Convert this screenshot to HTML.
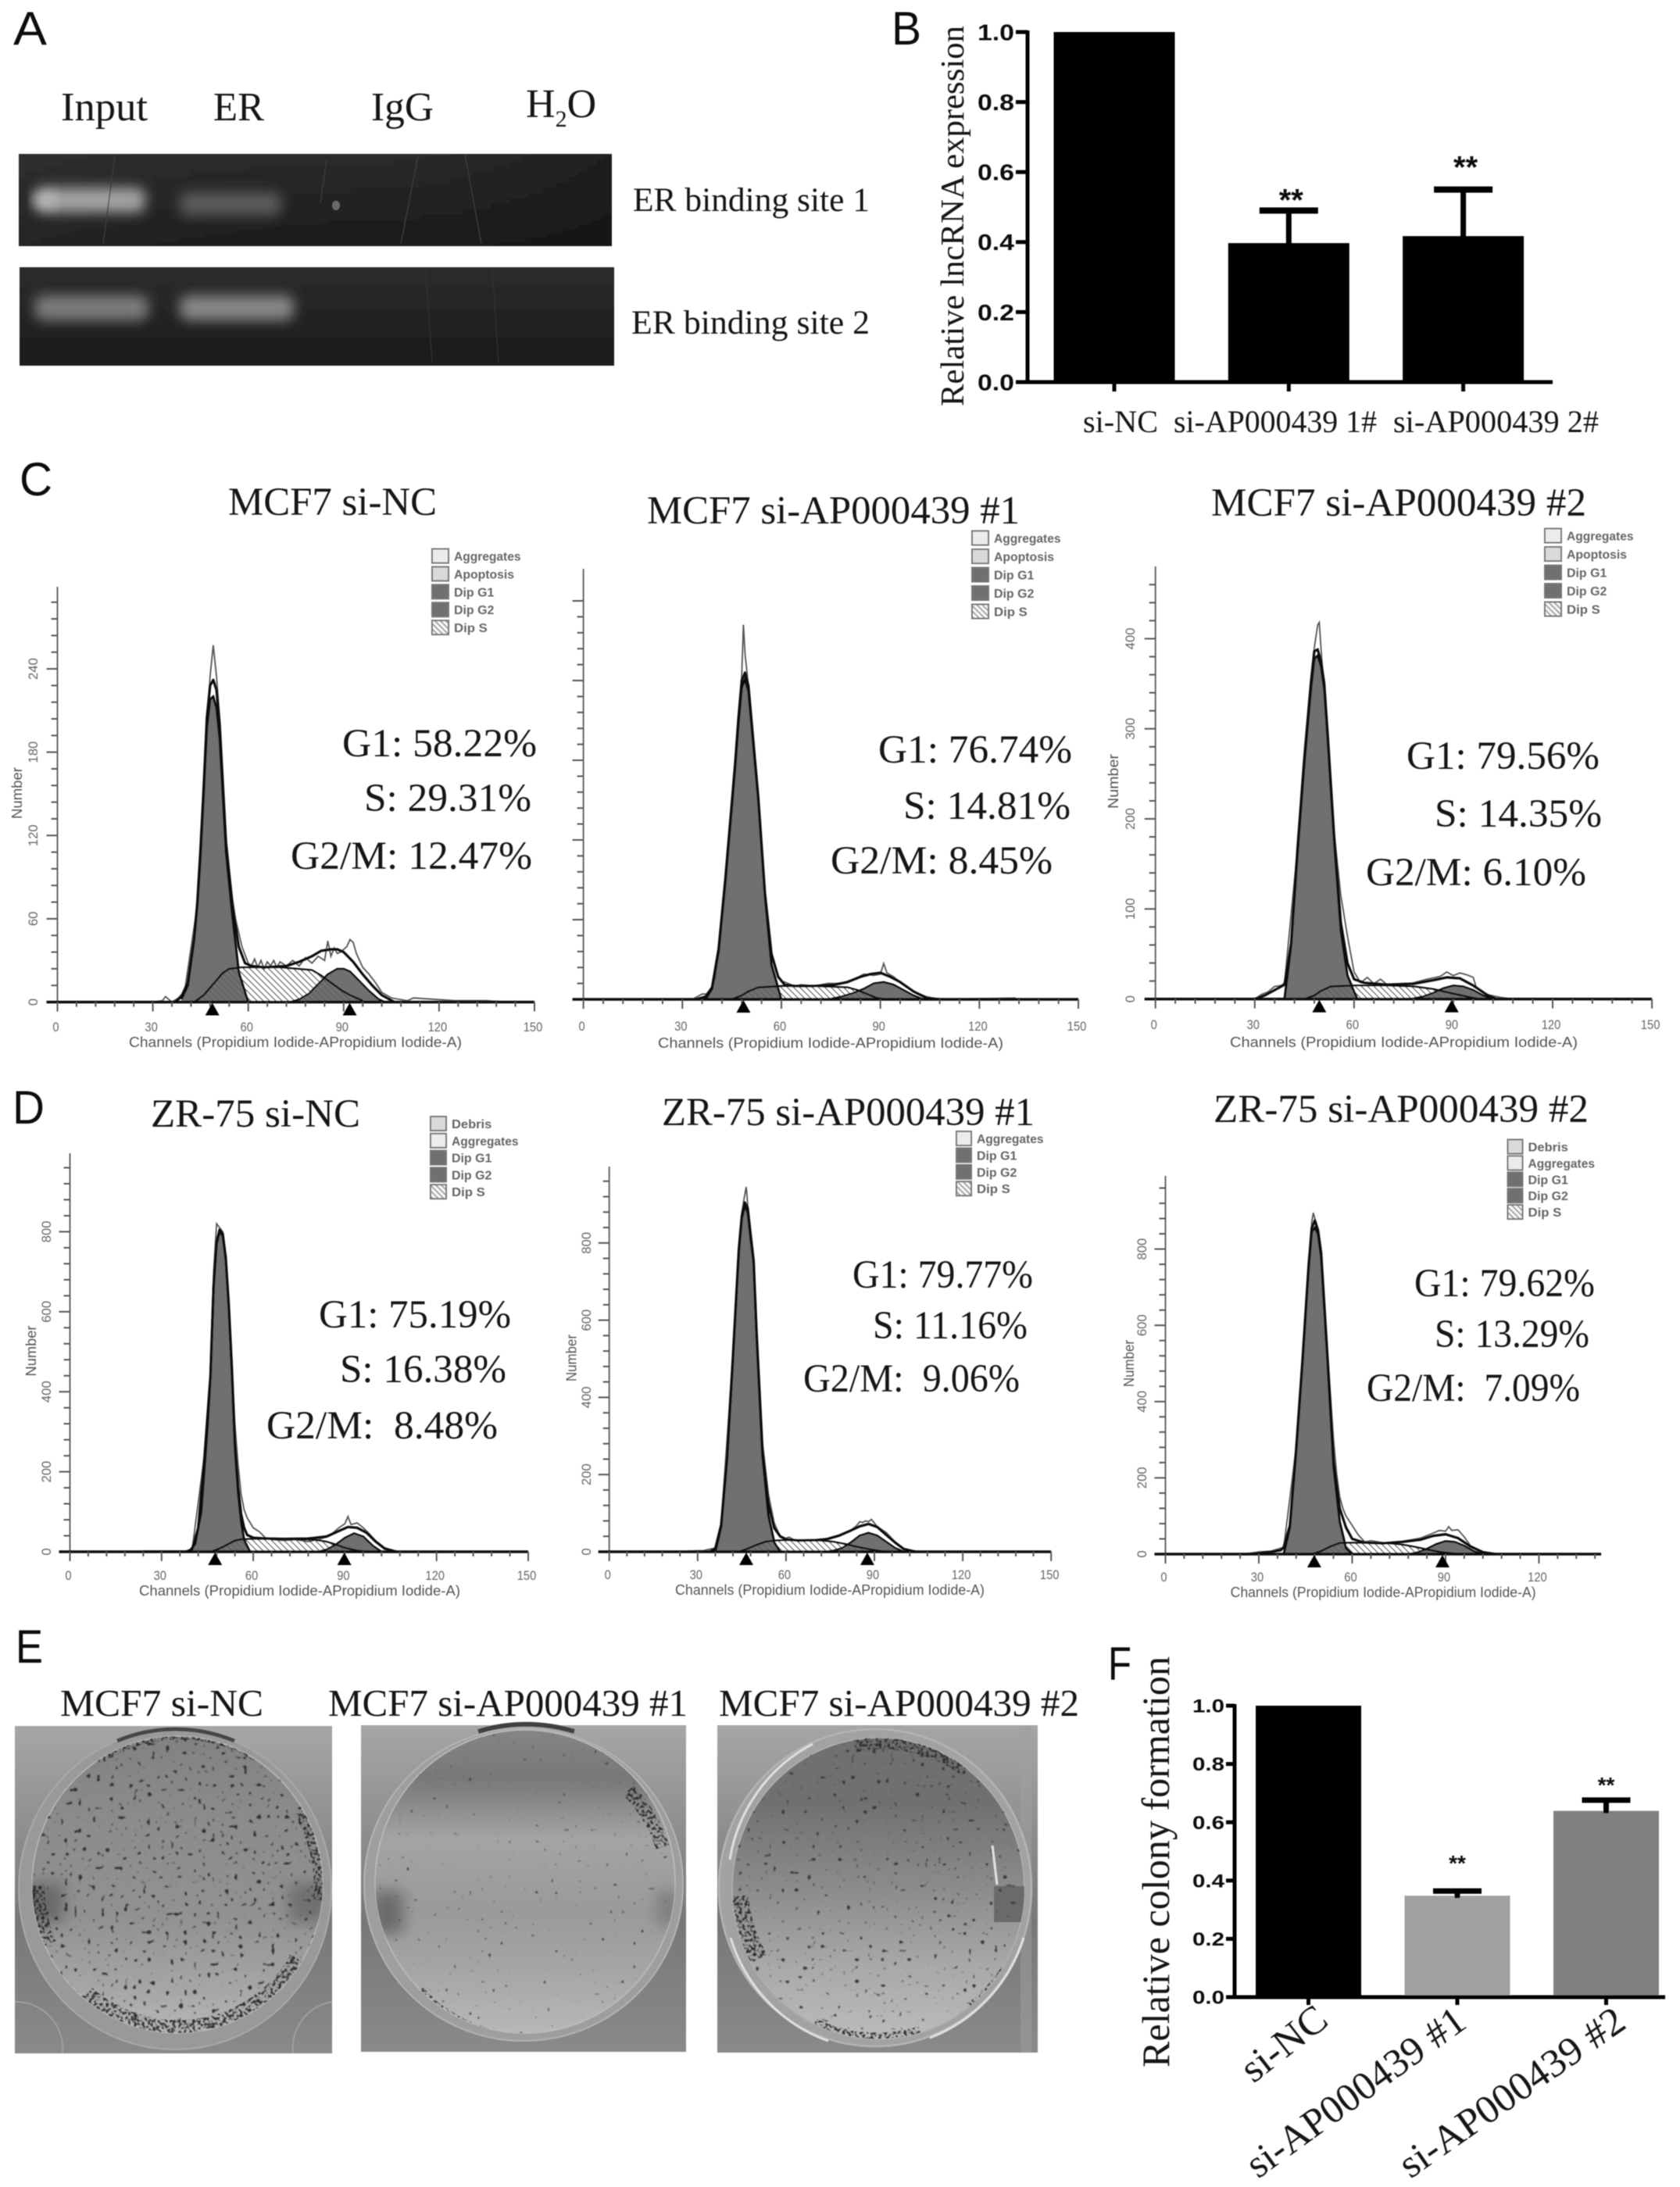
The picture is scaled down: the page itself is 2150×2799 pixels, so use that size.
<!DOCTYPE html>
<html>
<head>
<meta charset="utf-8">
<title>AP000439 figure</title>
<style>
html,body{margin:0;padding:0;background:#fff;}
svg{display:block;}
.serif{font-family:"Liberation Serif",serif;fill:#141414;}
.sans{font-family:"Liberation Sans",sans-serif;fill:#111;}
</style>
</head>
<body>
<svg id="fig" xmlns="http://www.w3.org/2000/svg" width="2150" height="2799" viewBox="0 0 2150 2799">
<defs>
  <filter id="soft" filterUnits="userSpaceOnUse" x="0" y="0" width="2150" height="2799"><feGaussianBlur stdDeviation="0.65"/></filter>
  <filter id="band" x="-30%" y="-120%" width="160%" height="340%"><feGaussianBlur stdDeviation="8"/></filter>
  <filter id="shadeBlur" x="-50%" y="-50%" width="200%" height="200%"><feGaussianBlur stdDeviation="9"/></filter>
  <filter id="colA" x="0" y="0" width="100%" height="100%" color-interpolation-filters="sRGB"><feTurbulence type="fractalNoise" baseFrequency="0.17" numOctaves="1" seed="4"/><feGaussianBlur stdDeviation="1"/><feColorMatrix values="0 0 0 0 .2 0 0 0 0 .2 0 0 0 0 .2 16 0 0 0 -9.9"/><feGaussianBlur stdDeviation="0.5"/></filter>
  <filter id="colB" x="0" y="0" width="100%" height="100%" color-interpolation-filters="sRGB"><feTurbulence type="fractalNoise" baseFrequency="0.2" numOctaves="1" seed="9"/><feGaussianBlur stdDeviation="1"/><feColorMatrix values="0 0 0 0 .3 0 0 0 0 .3 0 0 0 0 .3 16 0 0 0 -10.5"/><feGaussianBlur stdDeviation="0.5"/></filter>
  <filter id="colC" x="0" y="0" width="100%" height="100%" color-interpolation-filters="sRGB"><feTurbulence type="fractalNoise" baseFrequency="0.18" numOctaves="1" seed="15"/><feGaussianBlur stdDeviation="1"/><feColorMatrix values="0 0 0 0 .22 0 0 0 0 .22 0 0 0 0 .22 16 0 0 0 -10.2"/><feGaussianBlur stdDeviation="0.5"/></filter>
  <filter id="colDense" x="0" y="0" width="100%" height="100%" color-interpolation-filters="sRGB"><feTurbulence type="fractalNoise" baseFrequency="0.28" numOctaves="1" seed="21"/><feColorMatrix values="0 0 0 0 .18 0 0 0 0 .18 0 0 0 0 .18 10 0 0 0 -4.9"/><feGaussianBlur stdDeviation="0.5"/></filter>
  <pattern id="hatch" patternUnits="userSpaceOnUse" width="8" height="8"><rect width="8" height="8" fill="#fff"/><path d="M-1 -1L9 9M-1 7L1 9M7 -1L9 1" stroke="#8a8a8a" stroke-width="1.4"/></pattern>
  <pattern id="hatchOver" patternUnits="userSpaceOnUse" width="8" height="8"><path d="M-1 -1L9 9M-1 7L1 9M7 -1L9 1" stroke="#4a4a4a" stroke-width="1.2"/></pattern>
  <pattern id="hatchSwatch" patternUnits="userSpaceOnUse" width="7" height="7"><rect width="7" height="7" fill="#f4f4f4"/><path d="M-1 -1L8 8M-1 6L1 8M6 -1L8 1" stroke="#777" stroke-width="1.3"/></pattern>
  <linearGradient id="gelGrad" x1="0" y1="0" x2="0" y2="1"><stop offset="0" stop-color="#2c2c2c"/><stop offset=".7" stop-color="#202020"/><stop offset="1" stop-color="#1a1a1a"/></linearGradient>
  <linearGradient id="gelGrad2" x1="0" y1="0" x2="1" y2="0"><stop offset="0" stop-color="#333" stop-opacity=".45"/><stop offset=".6" stop-color="#222" stop-opacity=".1"/><stop offset="1" stop-color="#111" stop-opacity=".45"/></linearGradient>
  <linearGradient id="plateA" x1="0" y1="0" x2="0" y2="1"><stop offset="0" stop-color="#828282"/><stop offset=".3" stop-color="#8c8c8c"/><stop offset=".62" stop-color="#929292"/><stop offset=".85" stop-color="#a6a6a6"/><stop offset="1" stop-color="#b8b8b8"/></linearGradient>
  <linearGradient id="plateB" x1="0" y1="0" x2="0" y2="1"><stop offset="0" stop-color="#858585"/><stop offset=".16" stop-color="#787878"/><stop offset=".36" stop-color="#a4a4a4"/><stop offset=".6" stop-color="#9a9a9a"/><stop offset=".8" stop-color="#a6a6a6"/><stop offset="1" stop-color="#b8b8b8"/></linearGradient>
  <linearGradient id="plateC" x1="0" y1="0" x2="0" y2="1"><stop offset="0" stop-color="#707070"/><stop offset=".2" stop-color="#6f6f6f"/><stop offset=".5" stop-color="#8c8c8c"/><stop offset=".75" stop-color="#a8a8a8"/><stop offset="1" stop-color="#bcbcbc"/></linearGradient>
  <linearGradient id="trayGrad" x1="0" y1="0" x2="0" y2="1"><stop offset="0" stop-color="#a6a6a6"/><stop offset=".35" stop-color="#8c8c8c"/><stop offset=".6" stop-color="#787878"/><stop offset="1" stop-color="#8a8a8a"/></linearGradient>
  <clipPath id="clipA"><ellipse cx="227" cy="2412" rx="186" ry="190"/></clipPath>
  <clipPath id="clipB"><ellipse cx="672" cy="2408" rx="192" ry="194"/></clipPath>
  <clipPath id="clipC"><ellipse cx="1124" cy="2417" rx="187" ry="193"/></clipPath>
  <mask id="edgeA" maskUnits="userSpaceOnUse" x="19" y="2209" width="406" height="419">
    <g fill="none" stroke="#fff">
      <path d="M107 2557A186 190 0 0 0 387 2510" stroke-width="34"/>
      <path d="M387 2317A186 190 0 0 1 413 2433" stroke-width="24"/>
      <path d="M42 2413A186 190 0 0 0 58 2490" stroke-width="30"/>
      <path d="M130 2250A186 190 0 0 1 330 2250" stroke-width="12"/>
    </g>
  </mask>
  <mask id="edgeB" maskUnits="userSpaceOnUse" x="462" y="2208" width="416" height="418">
    <g fill="none" stroke="#fff">
      <path d="M536 2548A192 194 0 0 0 804 2562" stroke-width="14"/>
      <path d="M804 2291A192 194 0 0 1 848 2364" stroke-width="18"/>
    </g>
  </mask>
  <mask id="edgeC" maskUnits="userSpaceOnUse" x="918" y="2208" width="410" height="419">
    <g fill="none" stroke="#fff">
      <path d="M1093 2230A187 193 0 0 1 1240 2263" stroke-width="26"/>
      <path d="M940 2427A187 193 0 0 0 966 2510" stroke-width="36"/>
      <path d="M1043 2587A187 193 0 0 0 1177 2597" stroke-width="8"/>
      <path d="M1287 2520A187 193 0 0 1 1240 2570" stroke-width="12"/>
    </g>
  </mask>
</defs>

<g id="root" filter="url(#soft)">

<!-- Panel letters -->
<text class="sans" font-size="60" x="17" y="57" textLength="43" lengthAdjust="spacingAndGlyphs">A</text>
<text class="sans" font-size="60" x="1141" y="57" textLength="38" lengthAdjust="spacingAndGlyphs">B</text>
<text class="sans" font-size="60" x="25" y="634" textLength="42" lengthAdjust="spacingAndGlyphs">C</text>
<text class="sans" font-size="60" x="16" y="1438" textLength="41" lengthAdjust="spacingAndGlyphs">D</text>
<text class="sans" font-size="60" x="20" y="2128" textLength="35" lengthAdjust="spacingAndGlyphs">E</text>
<text class="sans" font-size="60" x="1418" y="2150" textLength="30" lengthAdjust="spacingAndGlyphs">F</text>

<!-- Panel A -->
<g>
  <text class="serif" font-size="52" x="78" y="154" textLength="111" lengthAdjust="spacingAndGlyphs">Input</text>
  <text class="serif" font-size="52" x="273" y="154" textLength="65" lengthAdjust="spacingAndGlyphs">ER</text>
  <text class="serif" font-size="52" x="475" y="154" textLength="80" lengthAdjust="spacingAndGlyphs">IgG</text>
  <text class="serif" font-size="52" x="673" y="150">H<tspan dy="12" font-size="30">2</tspan><tspan dy="-12">O</tspan></text>

  <g>
    <rect x="24" y="197" width="759" height="118" fill="url(#gelGrad)"/>
    <rect x="24" y="197" width="759" height="118" fill="url(#gelGrad2)"/>
    <rect x="46" y="240" width="140" height="32" rx="12" fill="#a2a2a2" filter="url(#band)"/>
    <rect x="44" y="248" width="26" height="16" fill="#c0c0c0" filter="url(#band)"/>
    <rect x="230" y="246" width="130" height="30" rx="10" fill="#5a5a5a" filter="url(#band)"/>
    <ellipse cx="430" cy="263" rx="5" ry="6" fill="#6a6a6a"/>
    <path d="M147 200L132 312M418 205L410 260M535 200L513 312M595 197L616 312" stroke="#3c3c3c" stroke-width="1.2" fill="none"/>
  </g>
  <g>
    <rect x="25" y="342" width="761" height="126" fill="url(#gelGrad)"/>
    <rect x="44" y="378" width="146" height="32" rx="12" fill="#7c7c7c" filter="url(#band)"/>
    <rect x="230" y="378" width="146" height="32" rx="12" fill="#868686" filter="url(#band)"/>
    <path d="M545 345L553 465M630 345L638 465" stroke="#333" stroke-width="1.2" fill="none"/>
  </g>
  <text class="serif" font-size="43.5" x="810" y="270" textLength="303" lengthAdjust="spacingAndGlyphs">ER binding site 1</text>
  <text class="serif" font-size="43.5" x="808" y="427" textLength="305" lengthAdjust="spacingAndGlyphs">ER binding site 2</text>
</g>

<!-- Panel B and F containers -->
<g id="panelB">
  <text class="serif" font-size="42.5" transform="translate(1233,520) rotate(-90)" textLength="487" lengthAdjust="spacingAndGlyphs">Relative lncRNA expression</text>
</g>
<g id="panelF">
  <text class="serif" font-size="50" transform="translate(1496,2646) rotate(-90)" textLength="526" lengthAdjust="spacingAndGlyphs">Relative colony formation</text>
</g>

<!-- Panel C titles and stats -->
<g>
  <text class="serif" font-size="51" x="292" y="659" textLength="267" lengthAdjust="spacingAndGlyphs">MCF7 si-NC</text>
  <text class="serif" font-size="51" x="438" y="968" textLength="249" lengthAdjust="spacingAndGlyphs">G1: 58.22%</text>
  <text class="serif" font-size="51" x="466" y="1038" textLength="214" lengthAdjust="spacingAndGlyphs">S: 29.31%</text>
  <text class="serif" font-size="51" x="372" y="1112" textLength="309" lengthAdjust="spacingAndGlyphs">G2/M: 12.47%</text>

  <text class="serif" font-size="51" x="828" y="670" textLength="477" lengthAdjust="spacingAndGlyphs">MCF7 si-AP000439 #1</text>
  <text class="serif" font-size="51" x="1124" y="976" textLength="248" lengthAdjust="spacingAndGlyphs">G1: 76.74%</text>
  <text class="serif" font-size="51" x="1156" y="1048" textLength="214" lengthAdjust="spacingAndGlyphs">S: 14.81%</text>
  <text class="serif" font-size="51" x="1063" y="1118" textLength="284" lengthAdjust="spacingAndGlyphs">G2/M: 8.45%</text>

  <text class="serif" font-size="51" x="1550" y="660" textLength="480" lengthAdjust="spacingAndGlyphs">MCF7 si-AP000439 #2</text>
  <text class="serif" font-size="51" x="1800" y="984" textLength="247" lengthAdjust="spacingAndGlyphs">G1: 79.56%</text>
  <text class="serif" font-size="51" x="1836" y="1058" textLength="214" lengthAdjust="spacingAndGlyphs">S: 14.35%</text>
  <text class="serif" font-size="51" x="1748" y="1133" textLength="282" lengthAdjust="spacingAndGlyphs">G2/M: 6.10%</text>
</g>

<!-- Panel D titles and stats -->
<g>
  <text class="serif" font-size="51" x="193" y="1442" textLength="268" lengthAdjust="spacingAndGlyphs">ZR-75 si-NC</text>
  <text class="serif" font-size="51" x="408" y="1699" textLength="246" lengthAdjust="spacingAndGlyphs">G1: 75.19%</text>
  <text class="serif" font-size="51" x="435" y="1769" textLength="213" lengthAdjust="spacingAndGlyphs">S: 16.38%</text>
  <text class="serif" font-size="51" x="341" y="1841" textLength="296" lengthAdjust="spacingAndGlyphs" xml:space="preserve">G2/M:  8.48%</text>

  <text class="serif" font-size="51" x="847" y="1440" textLength="477" lengthAdjust="spacingAndGlyphs">ZR-75 si-AP000439 #1</text>
  <text class="serif" font-size="51" x="1091" y="1648" textLength="231" lengthAdjust="spacingAndGlyphs">G1: 79.77%</text>
  <text class="serif" font-size="51" x="1117" y="1713" textLength="198" lengthAdjust="spacingAndGlyphs">S: 11.16%</text>
  <text class="serif" font-size="51" x="1028" y="1781" textLength="277" lengthAdjust="spacingAndGlyphs" xml:space="preserve">G2/M:  9.06%</text>

  <text class="serif" font-size="51" x="1553" y="1436" textLength="480" lengthAdjust="spacingAndGlyphs">ZR-75 si-AP000439 #2</text>
  <text class="serif" font-size="51" x="1810" y="1659" textLength="231" lengthAdjust="spacingAndGlyphs">G1: 79.62%</text>
  <text class="serif" font-size="51" x="1836" y="1724" textLength="198" lengthAdjust="spacingAndGlyphs">S: 13.29%</text>
  <text class="serif" font-size="51" x="1749" y="1793" textLength="273" lengthAdjust="spacingAndGlyphs" xml:space="preserve">G2/M:  7.09%</text>
</g>

<g id="flowCharts"></g>

<!-- Panel E -->
<g>
  <text class="serif" font-size="49" x="77" y="2196" textLength="260" lengthAdjust="spacingAndGlyphs">MCF7 si-NC</text>
  <text class="serif" font-size="49" x="420" y="2196" textLength="460" lengthAdjust="spacingAndGlyphs">MCF7 si-AP000439 #1</text>
  <text class="serif" font-size="49" x="920" y="2196" textLength="461" lengthAdjust="spacingAndGlyphs">MCF7 si-AP000439 #2</text>

  <g>
    <rect x="19" y="2209" width="406" height="419" fill="url(#trayGrad)"/>
    <path d="M19 2562A60 60 0 0 1 80 2628M425 2562A60 60 0 0 0 375 2628" fill="none" stroke="#aaa" stroke-width="1.2"/>
    <ellipse cx="224" cy="2418" rx="200" ry="205" fill="#999" stroke="#a9a9a9" stroke-width="2"/>
    <ellipse cx="227" cy="2412" rx="186" ry="190" fill="url(#plateA)" stroke="#b8b8b8" stroke-width="1.5"/>
    <g clip-path="url(#clipA)">
      <rect x="32" y="2410" width="50" height="50" fill="#6a6a6a" filter="url(#shadeBlur)"/>
      <rect x="370" y="2410" width="50" height="50" fill="#6f6f6f" filter="url(#shadeBlur)"/>
    </g>
    <g clip-path="url(#clipA)"><rect x="38" y="2220" width="380" height="384" filter="url(#colA)"/></g>
    <g clip-path="url(#clipA)"><g mask="url(#edgeA)"><rect x="38" y="2220" width="380" height="384" filter="url(#colDense)"/></g></g>
    <path d="M150 2228A200 205 0 0 1 300 2228" fill="none" stroke="#474747" stroke-width="5"/>
  </g>
  <g>
    <rect x="462" y="2208" width="416" height="418" fill="url(#trayGrad)"/>
    <ellipse cx="670" cy="2412" rx="204" ry="200" fill="#9e9e9e" stroke="#b2b2b2" stroke-width="2"/>
    <ellipse cx="672" cy="2408" rx="192" ry="194" fill="url(#plateB)" stroke="#bcbcbc" stroke-width="1.5"/>
    <g clip-path="url(#clipB)">
      <rect x="476" y="2420" width="40" height="55" fill="#6c6c6c" filter="url(#shadeBlur)"/>
      <rect x="840" y="2420" width="30" height="45" fill="#808080" filter="url(#shadeBlur)"/>
    </g>
    <g clip-path="url(#clipB)"><rect x="478" y="2212" width="390" height="392" filter="url(#colB)"/></g>
    <g clip-path="url(#clipB)"><g mask="url(#edgeB)"><rect x="478" y="2212" width="390" height="392" filter="url(#colDense)"/></g></g>
    <path d="M612 2216A204 200 0 0 1 735 2216" fill="none" stroke="#3f3f3f" stroke-width="6"/>
  </g>
  <g>
    <rect x="918" y="2208" width="410" height="419" fill="url(#trayGrad)"/>
    <rect x="1306" y="2208" width="14" height="419" fill="#a0a0a0" opacity=".5"/>
    <ellipse cx="1120" cy="2416" rx="200" ry="203" fill="#a2a2a2" stroke="#b4b4b4" stroke-width="2.5"/>
    <ellipse cx="1124" cy="2417" rx="187" ry="193" fill="url(#plateC)" stroke="#b0b0b0" stroke-width="1.5"/>
    <g clip-path="url(#clipC)">
      <rect x="1272" y="2414" width="50" height="46" fill="#6a6a6a"/>
    </g>
    <g clip-path="url(#clipC)"><rect x="937" y="2224" width="375" height="386" filter="url(#colC)"/></g>
    <g clip-path="url(#clipC)"><g mask="url(#edgeC)"><rect x="937" y="2224" width="375" height="386" filter="url(#colDense)"/></g></g>
    <path d="M934 2380A200 203 0 0 1 1040 2232M935 2480A200 203 0 0 0 1060 2612M1190 2608A200 203 0 0 0 1310 2480" fill="none" stroke="#dedede" stroke-width="3"/>
    <path d="M1270 2362L1276 2412" fill="none" stroke="#e0e0e0" stroke-width="3"/>
  </g>
</g>
</g>
</svg>

<script>
/* ---------- Panel B data ---------- */
const bCategories = ['si-NC', 'si-AP000439 1#', 'si-AP000439 2#'];
const bValues = [1.0, 0.397, 0.417];
const bErrorTops = [1.0, 0.49, 0.55];
const bStarLevels = [null, 0.54, 0.634];
const bTicks = [0, 0.2, 0.4, 0.6, 0.8, 1.0];

/* ---------- Panel F data ---------- */
const fCategories = ['si-NC', 'si-AP000439 #1', 'si-AP000439 #2'];
const fValues = [1.0, 0.348, 0.639];
const fErrorTops = [1.0, 0.364, 0.676];
const fStarLevels = [null, 0.477, 0.745];
const fTicks = [0, 0.2, 0.4, 0.6, 0.8, 1.0];

/* ---------- Histogram legends ---------- */
const legendMcf = ['Aggregates', 'Apoptosis', 'Dip G1', 'Dip G2', 'Dip S'];
const legendZrDebris = ['Debris', 'Aggregates', 'Dip G1', 'Dip G2', 'Dip S'];
const legendZrPlain = ['Aggregates', 'Dip G1', 'Dip G2', 'Dip S'];

/* ---------- Panel C, MCF7 si-NC ---------- */
const c1G1Channels = [39,41,43,44,45,46,47,48,49,50,51,53,55,57,60];
const c1G1Counts = [2,12,45,70,105,150,198,218,220,212,190,108,62,22,0];
const c1SChannels = [43,46,49,52,54,58,70,80,83,86,89,92,96];
const c1SCounts = [0,5,13,21,24,25,25,23,19,14,9,5,1];
const c1G2Channels = [73,76,79,82,85,88,90,92,95,98,101,103];
const c1G2Counts = [0,2,6,13,20,24,24,22,15,8,2,0];
const c1FitChannels = [37,39,41,43,44,45,46,47,48,49,50,51,53,55,57,59,61,65,72,76,80,83,86,88,90,93,96,99,102,106];
const c1FitCounts = [0,4,14,46,72,110,155,205,228,232,225,200,115,70,40,28,26,25,26,29,33,37,38,38,36,29,20,12,5,0];
const c1RawChannels = [30,33,34,36,38,40,44,47,48,49,50,51,52,53,55,56,57,58,60,61,62,63,64,65,66,67,68,69,70,72,74,76,78,80,82,84,85,86,87,88,89,90,91,92,93,94,96,98,100,102,105,110,112,125,135,141];
const c1RawCounts = [0,1,4,0,3,8,70,200,235,257,235,205,150,115,75,60,50,40,28,26,31,25,30,24,29,26,30,25,29,26,30,26,32,28,33,30,44,33,39,35,36,38,40,45,43,35,25,20,14,7,3,1,3,1,1,0];
const c1Peaks = [48.7, 91.9];

/* ---------- Panel C, MCF7 si-AP000439 #1 ---------- */
const c2G1Channels = [37,39,41,43,45,46,47,48,49,50,51,53,55,57,60];
const c2G1Counts = [0,8,36,88,145,175,208,235,241,232,205,150,78,26,0];
const c2SChannels = [45,48,50,53,60,70,80,83,86,89,92];
const c2SCounts = [0,3,6,9,10,10,9,7,4,1,0];
const c2G2Channels = [74,78,82,85,88,91,94,97,100,103];
const c2G2Counts = [0,2,5,8,12,13,11,7,3,0];
const c2FitChannels = [34,37,39,41,43,45,46,47,48,49,50,51,53,55,57,59,61,64,70,76,80,84,87,90,93,96,100,104,108];
const c2FitCounts = [0,2,9,38,90,148,178,212,240,246,236,208,152,80,34,17,11,10,10,11,13,17,19,20,17,13,6,1,0];
const c2RawChannels = [33,36,38,40,44,46,47,48,48.5,49,50,51,53,55,57,59,60,62,64,66,70,74,78,82,85,88,90,91,92,94,96,100,104,108,131];
const c2RawCounts = [0,4,4,16,115,180,215,245,282,260,236,210,150,80,36,18,14,12,10,11,10,12,12,15,19,18,19,27,20,17,13,6,2,0,1];
const c2Peaks = [48.5];

/* ---------- Panel C, MCF7 si-AP000439 #2 ---------- */
const c3G1Channels = [39,41,43,45,47,48,49,50,51,52,54,56,58,61];
const c3G1Counts = [0,60,165,262,345,378,381,370,345,290,175,76,26,0];
const c3SChannels = [45,48,50,53,60,70,78,84,90,95,98];
const c3SCounts = [0,4,9,14,15,15,14,11,6,2,0];
const c3G2Channels = [77,81,84,87,90,93,96,99,102];
const c3G2Counts = [0,3,7,12,15,14,10,4,0];
const c3FitChannels = [30,33,36,38,39,41,43,45,47,48,49,50,51,52,54,56,58,60,63,70,78,84,88,92,96,100,103];
const c3FitCounts = [0,4,10,14,16,62,170,268,352,386,388,375,350,295,180,85,40,22,18,16,17,21,24,23,15,5,0];
const c3RawChannels = [30,32,34,36,38,39,43,47,48,49,49.5,50,51,52,54,56,58,60,62,64,66,68,70,74,78,82,86,88,90,92,94,96,97,100,104,108];
const c3RawCounts = [0,5,8,14,15,18,170,352,390,415,418,390,340,295,185,115,70,30,18,24,17,22,16,15,18,22,25,30,26,29,27,24,12,5,2,0];
const c3Peaks = [49.5, 89.5];

/* ---------- Panel D, ZR-75 si-NC ---------- */
const d1G1Channels = [39,41,43,45,46,47,48,49,50,51,52,53,54,55,56,57,59];
const d1G1Counts = [0,20,100,310,440,660,770,800,790,730,610,450,260,150,75,30,0];
const d1SChannels = [46,48,50,52,54,56,60,70,80,84,87,90,94,97];
const d1SCounts = [0,5,12,20,28,31,32,32,30,25,18,10,3,0];
const d1G2Channels = [81,84,87,90,93,96,99,102];
const d1G2Counts = [0,6,18,35,46,38,16,0];
const d1FitChannels = [38,40,42,44,46,47,48,49,50,51,52,53,54,55,56,57,58,60,64,70,78,84,88,91,94,97,100,103,107];
const d1FitCounts = [0,6,60,230,440,660,775,805,795,735,615,460,270,165,95,60,42,35,33,32,33,38,52,62,60,48,26,8,0];
const d1RawChannels = [24,38,40,44,46,47,48,49,50,51,52,53,54,55,56,57,58,60,62,64,66,70,74,78,82,85,88,90,91,92,94,96,98,100,103,107];
const d1RawCounts = [2,2,6,240,450,700,820,810,800,740,620,470,320,220,145,105,85,60,50,35,30,28,30,25,32,40,60,70,88,68,72,60,45,28,10,0];
const d1Peaks = [47.5, 89.8];

/* ---------- Panel D, ZR-75 si-AP000439 #1 ---------- */
const d2G1Channels = [36,38,40,42,44,45,46,47,48,49,50,52,54,56,58];
const d2G1Counts = [0,65,240,500,780,864,896,880,810,750,560,250,95,25,0];
const d2SChannels = [44,47,50,53,56,60,66,72,76,80,84,88,92,95];
const d2SCounts = [0,8,18,26,29,30,30,29,26,20,13,7,2,0];
const d2G2Channels = [73,76,79,82,85,88,91,94,97,100];
const d2G2Counts = [0,3,10,24,42,49,42,26,10,0];
const d2FitChannels = [34,36,38,40,42,44,45,46,47,48,49,50,52,54,56,58,60,64,70,74,78,82,85,88,91,94,97,100,104];
const d2FitCounts = [0,8,70,245,505,785,870,905,890,820,755,570,265,125,62,40,32,29,30,33,42,55,66,72,64,44,24,7,0];
const d2RawChannels = [27,32,36,38,42,44,45,46,46.5,47,48,49,50,52,54,56,58,60,61,63,66,70,74,78,82,84,85,86,87,88,89,91,94,97,100,105];
const d2RawCounts = [2,3,10,75,510,790,880,925,945,900,825,755,575,285,150,75,40,35,38,30,28,30,33,40,55,68,78,76,80,78,84,65,50,26,8,0];
const d2Peaks = [46.5, 87.6];

/* ---------- Panel D, ZR-75 si-AP000439 #2 ---------- */
const d3G1Channels = [38,40,42,44,46,47,48,49,50,51,52,54,56,58,60];
const d3G1Counts = [0,70,270,500,750,845,856,840,780,650,517,230,85,16,0];
const d3SChannels = [47,50,53,56,60,66,72,76,80,84,88,92,95];
const d3SCounts = [0,8,20,29,30,29,28,25,19,12,6,2,0];
const d3G2Channels = [78,81,84,87,90,93,96,99,102];
const d3G2Counts = [0,5,14,26,34,32,22,8,0];
const d3FitChannels = [28,34,37,38,40,42,44,46,47,48,49,50,51,52,54,56,58,60,64,70,76,82,86,90,94,98,102,106];
const d3FitCounts = [0,6,10,18,75,275,505,755,855,875,850,790,660,525,245,120,70,40,30,28,32,38,48,52,42,20,5,0];
const d3RawChannels = [25,30,34,38,42,44,46,47,47.5,48,49,50,51,52,54,55,56,57,58,60,62,64,66,70,76,82,86,88,90,91,92,94,96,98,102,106];
const d3RawCounts = [0,6,8,18,280,510,760,870,895,880,850,790,660,540,300,210,150,120,100,75,50,32,35,30,33,42,55,62,60,72,62,64,45,22,6,0];
const d3Peaks = [47.8, 89];

const NS = 'http://www.w3.org/2000/svg';
function svgEl(tag, attrs, parent) {
  const el = document.createElementNS(NS, tag);
  for (const k in attrs) el.setAttribute(k, attrs[k]);
  parent.appendChild(el);
  return el;
}
function svgText(parent, str, attrs) {
  const el = svgEl('text', attrs, parent);
  el.textContent = str;
  return el;
}

/* ---------- Bar charts ---------- */
function drawBars(parent, cfg, cats, vals, errs, stars, ticks) {
  const y = v => cfg.base - v * (cfg.base - cfg.top);
  const x = i => cfg.firstCenter + i * cfg.step;

  vals.forEach((v, i) => {
    const bar = svgEl('rect', {x: x(i) - cfg.barW / 2, y: y(v), width: cfg.barW, height: cfg.base - y(v), fill: cfg.fills[i]}, parent);
    
    
    if (errs[i] > v) {
      const stem = svgEl('rect', {x: x(i) - cfg.stemW / 2, y: y(errs[i]), width: cfg.stemW, height: y(v) - y(errs[i]) + 3, fill: '#000'}, parent);
      
      
      const cap = svgEl('rect', {x: x(i) - cfg.capW / 2, y: y(errs[i]) - cfg.capH / 2, width: cfg.capW, height: cfg.capH, fill: '#000'}, parent);
      
      
    }
    if (stars[i] !== null) {
      const star = svgText(parent, '**', {x: x(i) + cfg.starDx, y: y(stars[i]) + cfg.starFont * 0.56, 'text-anchor': 'middle', 'font-size': cfg.starFont, 'font-weight': 'bold', class: 'sans'});
      
      
    }
    const tick = svgEl('rect', {x: x(i) - 2.5, y: cfg.base, width: 5, height: cfg.tickLen, fill: '#000'}, parent);
    
    
    const cl = cfg.catLabels[i];
    const attrs = cl.rotate
      ? {transform: 'translate(' + cl.x + ',' + cl.y + ') rotate(' + cl.rotate + ')', 'font-size': cfg.catFont, textLength: cl.w, lengthAdjust: 'spacingAndGlyphs', class: 'serif'}
      : {x: cl.x, y: cl.y, 'font-size': cfg.catFont, textLength: cl.w, lengthAdjust: 'spacingAndGlyphs', class: 'serif'};
    const lab = svgText(parent, cats[i], attrs);
    
    
  });

  const yAxis = svgEl('rect', {x: cfg.axisX - cfg.axisW / 2, y: y(1) - 2, width: cfg.axisW, height: cfg.base - y(1) + 4, fill: '#000'}, parent);
  
  
  const xAxis = svgEl('rect', {x: cfg.tickLeft, y: cfg.base - 2.5, width: cfg.axisEnd - cfg.tickLeft, height: 5, fill: '#000'}, parent);
  
  

  ticks.forEach(t => {
    const tk = svgEl('rect', {x: cfg.tickLeft, y: y(t) - 2.5, width: cfg.axisX - cfg.tickLeft, height: 5, fill: '#000'}, parent);
    
    
    const tl = svgText(parent, t.toFixed(1), {x: cfg.labelX, y: y(t) + cfg.labelFont * 0.36, 'font-size': cfg.labelFont, 'font-weight': 'bold', textLength: cfg.labelW, lengthAdjust: 'spacingAndGlyphs', class: 'sans'});
    
    
  });
}

drawBars(document.getElementById('panelB'), {
  base: 489, top: 41, firstCenter: 1426, step: 223.3, barW: 155, stemW: 7, capW: 75, capH: 8,
  fills: ['#000', '#000', '#000'], starFont: 40, starDx: 3, tickLen: 12, axisX: 1315, axisW: 5,
  tickLeft: 1300, axisEnd: 1987, labelX: 1251, labelFont: 29, labelW: 47, catFont: 40,
  catLabels: [{x: 1386, y: 553, w: 96}, {x: 1502, y: 553, w: 260}, {x: 1783, y: 553, w: 263}]
}, bCategories, bValues, bErrorTops, bStarLevels, bTicks);

drawBars(document.getElementById('panelF'), {
  base: 2556, top: 2183, firstCenter: 1674.5, step: 190.5, barW: 135, stemW: 7, capW: 62, capH: 7,
  fills: ['#000', '#a0a0a0', '#808080'], starFont: 28, starDx: 0, tickLen: 10, axisX: 1580, axisW: 5,
  tickLeft: 1569, axisEnd: 2131, labelX: 1526, labelFont: 24, labelW: 41, catFont: 51,
  catLabels: [
    {x: 1604, y: 2667, w: 125, rotate: -38},
    {x: 1610, y: 2789, w: 333, rotate: -36},
    {x: 1805, y: 2789, w: 340, rotate: -35}
  ]
}, fCategories, fValues, fErrorTops, fStarLevels, fTicks);

/* ---------- Histograms ---------- */
function drawFlow(f, d) {
  const root = document.getElementById('flowCharts');
  const g = svgEl('g', {}, root);
  
  

  const xs = ch => f.x0 + ch * f.pxPerCh;
  const ys = n => f.base - n * f.pxPerN;
  const line = (X, Y) => X.map((c, i) => (i ? 'L' : 'M') + xs(c).toFixed(1) + ' ' + ys(Y[i]).toFixed(1)).join('');
  const area = (X, Y) => 'M' + xs(X[0]).toFixed(1) + ' ' + f.base + line(X, Y).replace('M', 'L') + 'L' + xs(X[X.length - 1]).toFixed(1) + ' ' + f.base + 'Z';

  const sFill = svgEl('path', {d: area(d.sX, d.sY), fill: 'url(#hatch)'}, g);
  
  
  const g1Fill = svgEl('path', {d: area(d.g1X, d.g1Y), fill: '#6f6f6f'}, g);
  
  
  const g2Fill = svgEl('path', {d: area(d.g2X, d.g2Y), fill: '#6f6f6f'}, g);
  
  
  const sOver = svgEl('path', {d: area(d.sX, d.sY), fill: 'url(#hatchOver)', opacity: 0.55}, g);
  
  
  const raw = svgEl('path', {d: line(d.rawX, d.rawY), fill: 'none', stroke: '#555', 'stroke-width': 1.8}, g);
  
  
  const sLine = svgEl('path', {d: line(d.sX, d.sY), fill: 'none', stroke: '#111', 'stroke-width': 2.4}, g);
  
  
  const g2Line = svgEl('path', {d: line(d.g2X, d.g2Y), fill: 'none', stroke: '#111', 'stroke-width': 2.4}, g);
  
  
  const g1Line = svgEl('path', {d: line(d.g1X, d.g1Y), fill: 'none', stroke: '#111', 'stroke-width': 3}, g);
  
  
  const fit = svgEl('path', {d: line(d.fitX, d.fitY), fill: 'none', stroke: '#0c0c0c', 'stroke-width': 3.2, 'stroke-linejoin': 'round'}, g);
  
  

  /* y axis */
  const yAxis = svgEl('line', {x1: f.x0, x2: f.x0, y1: f.top, y2: f.base, stroke: '#666', 'stroke-width': 2}, g);
  
  
  for (let n = 0; n <= f.yMax; n += f.yMinor) {
    const major = n % f.yMajor === 0;
    const tk = svgEl('line', {x1: f.x0 - (major ? 14 : 8), x2: f.x0, y1: ys(n), y2: ys(n), stroke: '#555', 'stroke-width': 2}, g);
    
    
    if (major && f.yLabelX) {
      const str = String(n);
      const tl = svgText(g, str, {transform: 'translate(' + f.yLabelX + ',' + ys(n) + ') rotate(-90)', 'text-anchor': 'middle', 'font-size': 17, fill: '#666', 'font-family': '"Liberation Sans",sans-serif', textLength: 9.3 * str.length, lengthAdjust: 'spacingAndGlyphs'});
      
      
    }
  }
  if (f.numberX) {
    const nt = svgText(g, 'Number', {transform: 'translate(' + f.numberX + ',' + f.numberY + ') rotate(-90)', 'text-anchor': 'middle', 'font-size': 18, fill: '#555', 'font-family': '"Liberation Sans",sans-serif', textLength: f.numberLen, lengthAdjust: 'spacingAndGlyphs'});
    
    
  }

  /* x axis */
  const xAxis = svgEl('line', {x1: f.x0 - 14, x2: xs(f.xMax), y1: f.base, y2: f.base, stroke: '#111', 'stroke-width': 3.5}, g);
  
  
  for (let c = 0; c <= f.xMax; c += 6) {
    const major = c % 30 === 0;
    const tk = svgEl('line', {x1: xs(c), x2: xs(c), y1: f.base, y2: f.base + (major ? 12 : 6), stroke: '#555', 'stroke-width': 2}, g);
    
    
    if (major) {
      const str = String(c);
      const tl = svgText(g, str, {x: xs(c) - 2, y: f.xLabelY, 'text-anchor': 'middle', 'font-size': 17, fill: '#666', 'font-family': '"Liberation Sans",sans-serif', textLength: 8.2 * str.length, lengthAdjust: 'spacingAndGlyphs'});
      
      
    }
  }
  const xt = svgText(g, 'Channels (Propidium Iodide-APropidium Iodide-A)', {x: f.xTitleX, y: f.xTitleY, 'font-size': 18, fill: '#555', 'font-family': '"Liberation Sans",sans-serif', textLength: f.xTitleW, lengthAdjust: 'spacingAndGlyphs'});
  
  

  /* peak markers */
  d.peaks.forEach(p => {
    const tri = svgEl('path', {d: 'M' + xs(p) + ' ' + (f.base + 1) + 'l9 16h-18z', fill: '#000'}, g);
    
    
  });

  /* legend */
  d.legend.forEach((lab, i) => {
    const cy = f.legendTop + i * f.legendStep;
    const hue = lab === 'Dip S' ? 'url(#hatchSwatch)' : lab.indexOf('Dip') === 0 ? '#6f6f6f' : (lab === 'Aggregates' ? '#ececec' : '#d9d9d9');
    const box = svgEl('rect', {x: f.legendX, y: cy - 9, width: f.legendBoxW, height: 18, fill: hue, stroke: '#777', 'stroke-width': 2}, g);
    
    
    const t = svgText(g, lab, {x: f.legendX + f.legendBoxW + 7, y: cy + 6, 'font-size': 16, fill: '#666', 'font-weight': 'bold', 'font-family': '"Liberation Sans",sans-serif', textLength: lab.length * 8.55, lengthAdjust: 'spacingAndGlyphs'});
    
    
  });
}

drawFlow(
  {name:'histogram-mcf7-si-nc', x0:73.5, pxPerCh:4.07, base:1282.5, pxPerN:1.777, top:751, xMax:150, yMax:290, yMajor:60, yMinor:12, yLabelX:48, numberX:28, numberY:1015, numberLen:66, xLabelY:1320, xTitleX:165, xTitleY:1340, xTitleW:426, legendX:553, legendTop:711.5, legendStep:22.9, legendBoxW:21},
  {g1X:c1G1Channels, g1Y:c1G1Counts, sX:c1SChannels, sY:c1SCounts, g2X:c1G2Channels, g2Y:c1G2Counts, fitX:c1FitChannels, fitY:c1FitCounts, rawX:c1RawChannels, rawY:c1RawCounts, peaks:c1Peaks, legend:legendMcf}
);
drawFlow(
  {name:'histogram-mcf7-si-ap000439-1', x0:746.6, pxPerCh:4.223, base:1279, pxPerN:1.7, top:728, xMax:150, yMax:300, yMajor:60, yMinor:12, xLabelY:1319, xTitleX:842, xTitleY:1341, xTitleW:442, legendX:1244, legendTop:688.5, legendStep:23.5, legendBoxW:21},
  {g1X:c2G1Channels, g1Y:c2G1Counts, sX:c2SChannels, sY:c2SCounts, g2X:c2G2Channels, g2Y:c2G2Counts, fitX:c2FitChannels, fitY:c2FitCounts, rawX:c2RawChannels, rawY:c2RawCounts, peaks:c2Peaks, legend:legendMcf}
);
drawFlow(
  {name:'histogram-mcf7-si-ap000439-2', x0:1478.7, pxPerCh:4.236, base:1278.6, pxPerN:1.153, top:725, xMax:150, yMax:470, yMajor:100, yMinor:20, yLabelX:1452, numberX:1431, numberY:1000, numberLen:70, xLabelY:1317, xTitleX:1574, xTitleY:1340, xTitleW:445, legendX:1977, legendTop:685.5, legendStep:23.5, legendBoxW:21},
  {g1X:c3G1Channels, g1Y:c3G1Counts, sX:c3SChannels, sY:c3SCounts, g2X:c3G2Channels, g2Y:c3G2Counts, fitX:c3FitChannels, fitY:c3FitCounts, rawX:c3RawChannels, rawY:c3RawCounts, peaks:c3Peaks, legend:legendMcf}
);
drawFlow(
  {name:'histogram-zr75-si-nc', x0:89.5, pxPerCh:3.91, base:1986, pxPerN:0.512, top:1476, xMax:150, yMax:960, yMajor:200, yMinor:40, yLabelX:65, numberX:46, numberY:1729, numberLen:65, xLabelY:2022, xTitleX:178, xTitleY:2042, xTitleW:411, legendX:551, legendTop:1438, legendStep:21.8, legendBoxW:20},
  {g1X:d1G1Channels, g1Y:d1G1Counts, sX:d1SChannels, sY:d1SCounts, g2X:d1G2Channels, g2Y:d1G2Counts, fitX:d1FitChannels, fitY:d1FitCounts, rawX:d1RawChannels, rawY:d1RawCounts, peaks:d1Peaks, legend:legendZrDebris}
);
drawFlow(
  {name:'histogram-zr75-si-ap000439-1', x0:779.7, pxPerCh:3.77, base:1986, pxPerN:0.494, top:1493, xMax:150, yMax:960, yMajor:200, yMinor:40, yLabelX:756, numberX:737.5, numberY:1738, numberLen:60, xLabelY:2021, xTitleX:864, xTitleY:2041, xTitleW:396, legendX:1224, legendTop:1457, legendStep:21.4, legendBoxW:19},
  {g1X:d2G1Channels, g1Y:d2G1Counts, sX:d2SChannels, sY:d2SCounts, g2X:d2G2Channels, g2Y:d2G2Counts, fitX:d2FitChannels, fitY:d2FitCounts, rawX:d2RawChannels, rawY:d2RawCounts, peaks:d2Peaks, legend:legendZrPlain}
);
drawFlow(
  {name:'histogram-zr75-si-ap000439-2', x0:1491.5, pxPerCh:3.983, base:1989, pxPerN:0.488, top:1505, xMax:140, yMax:960, yMajor:200, yMinor:40, yLabelX:1467, numberX:1451, numberY:1745, numberLen:60, xLabelY:2024, xTitleX:1574.6, xTitleY:2044, xTitleW:391, legendX:1929.5, legendTop:1467.5, legendStep:20.9, legendBoxW:19},
  {g1X:d3G1Channels, g1Y:d3G1Counts, sX:d3SChannels, sY:d3SCounts, g2X:d3G2Channels, g2Y:d3G2Counts, fitX:d3FitChannels, fitY:d3FitCounts, rawX:d3RawChannels, rawY:d3RawCounts, peaks:d3Peaks, legend:legendZrDebris}
);
</script>
</body>
</html>
